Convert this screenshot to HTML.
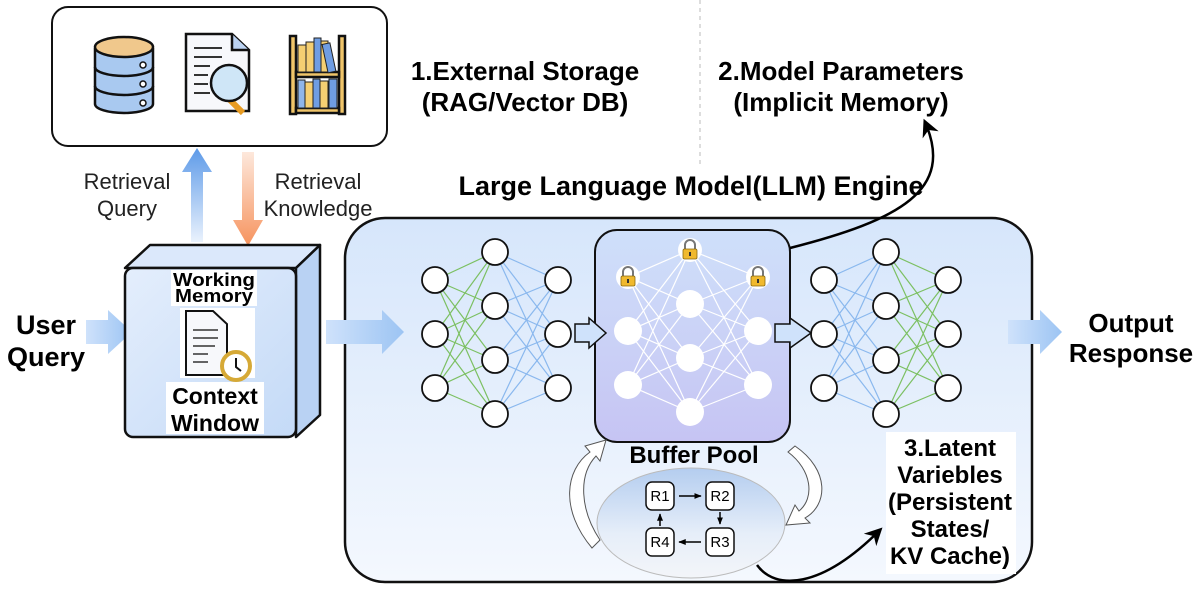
<!DOCTYPE html>
<html><head><meta charset="utf-8"><style>
html,body{margin:0;padding:0;background:#fff;width:1200px;height:594px;overflow:hidden}
svg text{font-family:"Liberation Sans",Arial,sans-serif}
</style></head><body>
<svg id="s" width="1200" height="594" viewBox="0 0 1200 594" xmlns="http://www.w3.org/2000/svg">
<defs>
<linearGradient id="main" x1="0" y1="0" x2="0" y2="1"><stop offset="0" stop-color="#d6e6fb"/><stop offset="1" stop-color="#f4f8fe"/></linearGradient>
<linearGradient id="cen" x1="0" y1="0" x2="0" y2="1"><stop offset="0" stop-color="#cfe0fa"/><stop offset="1" stop-color="#c6c4f3"/></linearGradient>
<linearGradient id="ell" x1="0" y1="0" x2="0" y2="1"><stop offset="0" stop-color="#b4cdef"/><stop offset="0.6" stop-color="#e6eef9"/><stop offset="1" stop-color="#f3f5f9"/></linearGradient>
<linearGradient id="ha" x1="0" y1="0" x2="1" y2="0"><stop offset="0" stop-color="#cfe2fb"/><stop offset="1" stop-color="#9cc4f3"/></linearGradient>
<linearGradient id="up" x1="0" y1="1" x2="0" y2="0"><stop offset="0" stop-color="#eaf2fd"/><stop offset="1" stop-color="#5d9ae8"/></linearGradient>
<linearGradient id="dn" x1="0" y1="0" x2="0" y2="1"><stop offset="0" stop-color="#fde8dc"/><stop offset="1" stop-color="#f6935e"/></linearGradient>
<linearGradient id="cube" x1="0" y1="0" x2="1" y2="1"><stop offset="0" stop-color="#e4eefc"/><stop offset="1" stop-color="#c4daf7"/></linearGradient>
<marker id="ah" viewBox="0 0 10 10" refX="8" refY="5" markerWidth="7" markerHeight="7" orient="auto"><path d="M0,0 L10,5 L0,10 L3,5z" fill="#000"/></marker>
<marker id="sa" viewBox="0 0 10 10" refX="9" refY="5" markerWidth="5" markerHeight="5" orient="auto"><path d="M0,1 L10,5 L0,9z" fill="#000"/></marker>
</defs>
<line x1="700" y1="0" x2="700" y2="168" stroke="#bbb" stroke-dasharray="4,4"/>
<rect x="52" y="7" width="335" height="139" rx="16" fill="#fff" stroke="#111" stroke-width="2"/>
<g stroke="#111" stroke-width="2.5">
<path d="M95,48 v56 a29,9 0 0 0 58,0 v-56" fill="#a9c9f0"/>
<path d="M95,67 a29,9 0 0 0 58,0 M95,86 a29,9 0 0 0 58,0" fill="none"/>
<ellipse cx="124" cy="47" rx="29" ry="10" fill="#f0c88c"/>
<path d="M186,34 h46 l17,16 v61 h-63z" fill="#f7f8fb"/>
<path d="M232,34 v16 h17" fill="#bcd3f2"/>
<line x1="228" y1="98" x2="243" y2="113" stroke="#e79b22" stroke-width="6"/>
<circle cx="229" cy="83" r="18" fill="#cfe6f7"/>
<rect x="290" y="36" width="6" height="78" fill="#f0c56a"/><rect x="339" y="36" width="6" height="78" fill="#f0c56a"/>
<rect x="296" y="72" width="43" height="5" fill="#f0c56a"/><rect x="296" y="108" width="43" height="5" fill="#f0c56a"/>
</g>
<g stroke="#333" stroke-width="2"><line x1="194" y1="48" x2="222" y2="48"/><line x1="194" y1="57" x2="222" y2="57"/><line x1="194" y1="66" x2="210" y2="66"/><line x1="194" y1="75" x2="208" y2="75"/><line x1="194" y1="84" x2="208" y2="84"/><line x1="194" y1="93" x2="210" y2="93"/></g>
<g fill="#fff" stroke="#111" stroke-width="1.5"><circle cx="143" cy="65" r="3"/><circle cx="143" cy="84" r="3"/><circle cx="143" cy="103" r="3"/></g>
<g stroke="#222" stroke-width="1"><rect x="298" y="45" width="8" height="27" fill="#f5cf72"/><rect x="306" y="42" width="8" height="30" fill="#f5cf72"/><rect x="314" y="38" width="7" height="34" fill="#6f9de3"/><rect x="321" y="41" width="7" height="31" fill="#f5cf72"/><rect x="328" y="43" width="8" height="29" fill="#6f9de3" transform="rotate(-12 332 72)"/>
<rect x="298" y="80" width="7" height="28" fill="#8fb5ea"/><rect x="305" y="82" width="8" height="26" fill="#f5cf72"/><rect x="313" y="79" width="7" height="29" fill="#6f9de3"/><rect x="320" y="81" width="8" height="27" fill="#f5cf72"/><rect x="329" y="79" width="8" height="29" fill="#6f9de3"/></g>
<path d="M191,242 V172 H182 L197,148 L212,172 H203 V242z" fill="url(#up)"/>
<path d="M242,152 V220 H233 L248,246 L263,220 H254 V152z" fill="url(#dn)"/>
<text x="127" y="189" font-size="22" text-anchor="middle" fill="#222">Retrieval</text>
<text x="127" y="216" font-size="22" text-anchor="middle" fill="#222">Query</text>
<text x="318" y="189" font-size="22" text-anchor="middle" fill="#222">Retrieval</text>
<text x="318" y="216" font-size="22" text-anchor="middle" fill="#222">Knowledge</text>
<text x="46" y="334" font-size="27" font-weight="bold" text-anchor="middle">User</text>
<text x="46" y="366" font-size="27" font-weight="bold" text-anchor="middle">Query</text>
<path d="M86,320 H108 V310 L132,332 L108,354 V344 H86z" fill="url(#ha)"/>
<path d="M125,268 L150,245 H320 L296,268z" fill="#dbe8fb" stroke="#111" stroke-width="2.5" stroke-linejoin="round"/>
<path d="M296,268 L320,245 V415 L296,437z" fill="#b9d2f3" stroke="#111" stroke-width="2.5" stroke-linejoin="round"/>
<rect x="125" y="268" width="171" height="169" rx="8" fill="url(#cube)" stroke="#111" stroke-width="2.5"/>
<rect x="171" y="270" width="86" height="36" fill="#fff"/>
<text x="214" y="286" font-size="18" font-weight="bold" text-anchor="middle" textLength="82" lengthAdjust="spacingAndGlyphs">Working</text>
<text x="214" y="302" font-size="18" font-weight="bold" text-anchor="middle" textLength="78" lengthAdjust="spacingAndGlyphs">Memory</text>
<rect x="180" y="308" width="75" height="70" fill="#fff"/>
<path d="M186,311 h27 l14,13 v51 h-41z" fill="#f7f8fb" stroke="#111" stroke-width="2"/>
<g stroke="#333" stroke-width="1.5"><line x1="193" y1="330" x2="218" y2="330"/><line x1="193" y1="338" x2="218" y2="338"/><line x1="193" y1="346" x2="215" y2="346"/><line x1="193" y1="354" x2="208" y2="354"/><line x1="193" y1="362" x2="208" y2="362"/></g>
<circle cx="236" cy="366" r="14" fill="#fff" stroke="#d6a936" stroke-width="4"/>
<path d="M236,358 v9 l5,4" stroke="#111" stroke-width="2" fill="none"/>
<rect x="166" y="382" width="98" height="52" fill="#fff"/>
<text x="215" y="404" font-size="23" font-weight="bold" text-anchor="middle">Context</text>
<text x="215" y="431" font-size="23" font-weight="bold" text-anchor="middle">Window</text>
<text x="691" y="195" font-size="27" font-weight="bold" text-anchor="middle">Large Language Model(LLM) Engine</text>
<rect x="345" y="218" width="687" height="364" rx="40" fill="url(#main)" stroke="#111" stroke-width="2.5"/>
<path d="M326,320 H382 V310 L404,332 L382,354 V344 H326z" fill="url(#ha)"/>
<path d="M1008,320 H1040 V310 L1062,332 L1040,354 V344 H1008z" fill="url(#ha)"/>
<text x="1131" y="332" font-size="26" font-weight="bold" text-anchor="middle">Output</text>
<text x="1131" y="362" font-size="26" font-weight="bold" text-anchor="middle">Response</text>
<text x="525" y="80" font-size="26" font-weight="bold" text-anchor="middle">1.External Storage</text>
<text x="525" y="111" font-size="26" font-weight="bold" text-anchor="middle">(RAG/Vector DB)</text>
<text x="841" y="80" font-size="26" font-weight="bold" text-anchor="middle">2.Model Parameters</text>
<text x="841" y="111" font-size="26" font-weight="bold" text-anchor="middle">(Implicit Memory)</text>
<rect x="595" y="230" width="195" height="212" rx="22" fill="url(#cen)" stroke="#111" stroke-width="2"/>
<path d="M790,248 C900,220 955,190 925,122" fill="none" stroke="#000" stroke-width="2.5" marker-end="url(#ah)"/>
<g id="nets"></g>
<path d="M575,324 H589 V318 L606,333 L589,348 V342 H575z" fill="#cfe2fb" stroke="#111" stroke-width="1.5"/>
<path d="M775,324 H790 V318 L811,333 L790,348 V342 H775z" fill="#cfe2fb" stroke="#111" stroke-width="1.5"/>
<ellipse cx="691" cy="523" rx="94" ry="55" fill="url(#ell)" stroke="#bbb" stroke-width="1"/>
<text x="694" y="463" font-size="24" font-weight="bold" text-anchor="middle">Buffer Pool</text>
<g font-size="15" text-anchor="middle">
<rect x="646" y="482" width="28" height="28" rx="6" fill="#fff" stroke="#111" stroke-width="1.5"/><text x="660" y="501">R1</text>
<rect x="706" y="482" width="28" height="28" rx="6" fill="#fff" stroke="#111" stroke-width="1.5"/><text x="720" y="501">R2</text>
<rect x="706" y="528" width="28" height="28" rx="6" fill="#fff" stroke="#111" stroke-width="1.5"/><text x="720" y="547">R3</text>
<rect x="646" y="528" width="28" height="28" rx="6" fill="#fff" stroke="#111" stroke-width="1.5"/><text x="660" y="547">R4</text>
</g>
<g stroke="#000" stroke-width="1.5" marker-end="url(#sa)"><line x1="679" y1="496" x2="701" y2="496"/><line x1="720" y1="512" x2="720" y2="524"/><line x1="701" y1="542" x2="679" y2="542"/><line x1="660" y1="526" x2="660" y2="514"/></g>
<path d="M592,548 C560,510 565,470 590,452 L585,446 L606,440 L600,461 L596,456 C578,475 580,510 600,540z" fill="#fff" stroke="#555" stroke-width="1"/>
<path d="M795,446 C830,470 828,505 805,518 L810,523 L786,525 L795,505 L799,511 C815,498 812,470 788,452z" fill="#fff" stroke="#555" stroke-width="1"/>
<path d="M757,565 C775,590 820,590 880,530" fill="none" stroke="#000" stroke-width="2.5" marker-end="url(#ah)"/>
<rect x="886" y="432" width="130" height="142" fill="#fff"/>
<g font-size="24" font-weight="bold" text-anchor="middle">
<text x="950" y="456">3.Latent</text><text x="950" y="483">Variebles</text><text x="950" y="510">(Persistent</text><text x="950" y="537">States/</text><text x="950" y="564">KV Cache)</text></g>
</svg>
<script>
var g=document.getElementById('nets'),NS='http://www.w3.org/2000/svg';
function el(t,a){var e=document.createElementNS(NS,t);for(var k in a)e.setAttribute(k,a[k]);g.appendChild(e);return e;}
var Y3=[280,334,388],Y4=[252,306,360,414];
function conn(xa,ya,xb,yb,c){ya.forEach(function(a){yb.forEach(function(b){el('line',{x1:xa,y1:a,x2:xb,y2:b,stroke:c,'stroke-width':1.2});});});}
conn(435,Y3,495,Y4,'#7cc062');conn(495,Y4,558,Y3,'#8ab8ee');
conn(824,Y3,886,Y4,'#8ab8ee');conn(886,Y4,948,Y3,'#7cc062');
conn(628,[277,331,385],690,[250,304,358,412],'#fff');conn(690,[250,304,358,412],758,[277,331,385],'#fff');
[[435,Y3],[495,Y4],[558,Y3],[824,Y3],[886,Y4],[948,Y3]].forEach(function(c){c[1].forEach(function(y){el('circle',{cx:c[0],cy:y,r:13,fill:'#fff',stroke:'#111','stroke-width':1.8});});});
[[628,[331,385]],[690,[304,358,412]],[758,[331,385]]].forEach(function(c){c[1].forEach(function(y){el('circle',{cx:c[0],cy:y,r:14,fill:'#fff'});});});
[[628,277],[690,250],[758,277]].forEach(function(p){el('circle',{cx:p[0],cy:p[1],r:12,fill:'#fff'});
el('path',{d:'M'+(p[0]-5)+','+(p[1]-1)+' v-4 a5,5 0 0 1 10,0 v4',fill:'none',stroke:'#777','stroke-width':2});
el('rect',{x:p[0]-7,y:p[1]-1,width:14,height:10,rx:1.5,fill:'#f0b92e',stroke:'#8a6a10','stroke-width':0.8});
el('rect',{x:p[0]-1,y:p[1]+2,width:2,height:4,fill:'#333'});});
</script>
</body></html>
